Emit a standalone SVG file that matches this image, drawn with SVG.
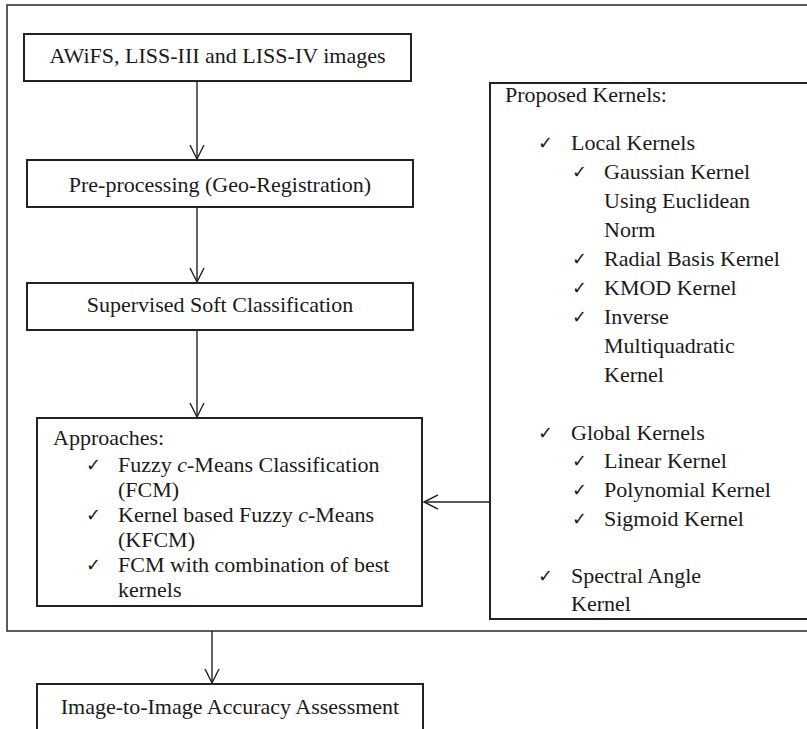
<svg xmlns="http://www.w3.org/2000/svg" width="807" height="729" viewBox="0 0 807 729">
  <style>
    .box { fill: #ffffff; stroke: #222222; stroke-width: 2; }
    .frame { fill: none; stroke: #333333; stroke-width: 1.6; }
    .lbl { font-family: "Liberation Serif", "Times New Roman", serif; font-size: 22px; fill: #1a1a1a; }
    .mid { text-anchor: middle; }
    .tick { font-family: "DejaVu Sans", sans-serif; font-size: 18px; font-weight: bold; fill: #1a1a1a; }
    .conn { stroke: #222222; stroke-width: 1.4; fill: none; }
  </style>
  <defs>
    <marker id="open-arrow" viewBox="0 0 16 16" refX="14" refY="8" markerWidth="16" markerHeight="16" markerUnits="userSpaceOnUse" orient="auto">
      <path d="M0,1 L14,8 L0,15" fill="none" stroke="#222222" stroke-width="1.4"/>
    </marker>
  </defs>

  <rect width="807" height="729" fill="#ffffff"/>

  <!-- enclosing frame of the classification stage -->
  <g id="frame">
    <rect class="frame" x="7" y="5" width="820" height="626"/>
  </g>

  <g id="connectors">
    <line class="conn" x1="197" y1="81" x2="197" y2="159" marker-end="url(#open-arrow)"/>
    <line class="conn" x1="197" y1="207" x2="197" y2="282" marker-end="url(#open-arrow)"/>
    <line class="conn" x1="197" y1="330" x2="197" y2="417" marker-end="url(#open-arrow)"/>
    <line class="conn" x1="490" y1="502" x2="424" y2="502" marker-end="url(#open-arrow)"/>
    <line class="conn" x1="212" y1="631" x2="212" y2="683" marker-end="url(#open-arrow)"/>
  </g>

  <g id="images">
    <rect class="box" x="24" y="34" width="387" height="47"/>
    <text class="lbl mid" x="217.5" y="63">AWiFS, LISS-III and LISS-IV images</text>
  </g>

  <g id="preprocessing">
    <rect class="box" x="27" y="160" width="386" height="47"/>
    <text class="lbl mid" x="220" y="191.5">Pre-processing (Geo-Registration)</text>
  </g>

  <g id="soft-classification">
    <rect class="box" x="27" y="283" width="386" height="47"/>
    <text class="lbl mid" x="220" y="311.5">Supervised Soft Classification</text>
  </g>

  <g id="approaches">
    <rect class="box" x="37" y="418" width="385" height="188"/>
    <text class="lbl" x="53" y="445">Approaches:</text>
    <text class="tick" x="86" y="471">✓</text>
    <text class="lbl" x="118" y="472">Fuzzy <tspan font-style="italic">c</tspan>-Means Classification</text>
    <text class="lbl" x="118" y="497">(FCM)</text>
    <text class="tick" x="86" y="521">✓</text>
    <text class="lbl" x="118" y="522">Kernel based Fuzzy <tspan font-style="italic">c</tspan>-Means</text>
    <text class="lbl" x="118" y="547">(KFCM)</text>
    <text class="tick" x="86" y="571">✓</text>
    <text class="lbl" x="118" y="572">FCM with combination of best</text>
    <text class="lbl" x="118" y="597">kernels</text>
  </g>

  <g id="proposed-kernels">
    <rect class="box" x="490" y="83" width="337" height="536"/>
    <text class="lbl" x="505" y="102">Proposed Kernels:</text>

    <text class="tick" x="538" y="149">✓</text>
    <text class="lbl" x="571" y="150">Local Kernels</text>
    <text class="tick" x="572" y="178">✓</text>
    <text class="lbl" x="604" y="179">Gaussian Kernel</text>
    <text class="lbl" x="604" y="208">Using Euclidean</text>
    <text class="lbl" x="604" y="237">Norm</text>
    <text class="tick" x="572" y="265">✓</text>
    <text class="lbl" x="604" y="266">Radial Basis Kernel</text>
    <text class="tick" x="572" y="294">✓</text>
    <text class="lbl" x="604" y="295">KMOD Kernel</text>
    <text class="tick" x="572" y="323">✓</text>
    <text class="lbl" x="604" y="324">Inverse</text>
    <text class="lbl" x="604" y="353">Multiquadratic</text>
    <text class="lbl" x="604" y="382">Kernel</text>

    <text class="tick" x="538" y="439">✓</text>
    <text class="lbl" x="571" y="440">Global Kernels</text>
    <text class="tick" x="572" y="467">✓</text>
    <text class="lbl" x="604" y="468">Linear Kernel</text>
    <text class="tick" x="572" y="496">✓</text>
    <text class="lbl" x="604" y="497">Polynomial Kernel</text>
    <text class="tick" x="572" y="525">✓</text>
    <text class="lbl" x="604" y="526">Sigmoid Kernel</text>

    <text class="tick" x="538" y="582">✓</text>
    <text class="lbl" x="571" y="583">Spectral Angle</text>
    <text class="lbl" x="571" y="611">Kernel</text>
  </g>

  <g id="accuracy-assessment">
    <rect class="box" x="37" y="684" width="386" height="60"/>
    <text class="lbl mid" x="230" y="713.5">Image-to-Image Accuracy Assessment</text>
  </g>
</svg>
